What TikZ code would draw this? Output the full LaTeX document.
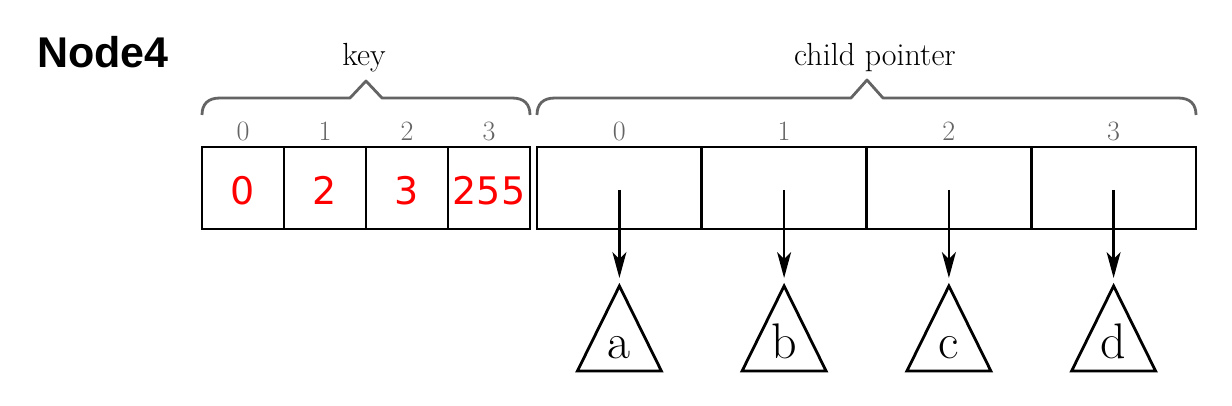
\documentclass[tikz,border=0pt]{standalone}
\usepackage{fontspec}
\newfontfamily\numfont{DejaVu Sans}
\newfontfamily\titlefont{Liberation Sans}
\usetikzlibrary{arrows.meta}
\definecolor{braceg}{RGB}{100,100,100}
\definecolor{numred}{RGB}{255,0,0}
\begin{document}
\begin{tikzpicture}[x=1pt,y=-1pt,
  cellbase/.style={draw, line width=2.8pt, minimum height=82pt, inner sep=0pt, outer sep=0pt},
  keycell/.style={cellbase, minimum width=82pt, text=numred, font=\numfont\fontsize{38}{40}\selectfont, text height=33.7pt, text depth=0pt},
  ptrcell/.style={cellbase, minimum width=164.75pt},
  idx/.style={text=braceg, font=\fontsize{28}{32}\selectfont, anchor=base, inner sep=0pt},
  lbl/.style={font=\fontsize{32}{38}\selectfont, anchor=base, inner sep=0pt},
  bracel/.style={draw=braceg, line width=2.8pt, line join=round},
  ptr/.style={draw, line width=2.4pt, -{Stealth[length=26pt,width=14pt,inset=7pt]}},
  tri/.style={draw, line width=2.8pt, line join=miter},
  leaf/.style={font=\fontsize{50}{52}\selectfont, anchor=base, inner sep=0pt}]
\useasboundingbox (0,0) rectangle (1232,406);

% title
\node[font=\titlefont\bfseries\fontsize{43}{48}\selectfont, anchor=base west, inner sep=0pt] (title) at (37,68) {Node4};

% key cells
\node[keycell] (k0) at (243,188) {0};
\node[keycell] (k1) at (325,188) {2};
\node[keycell] (k2) at (407,188) {3};
\node[keycell] (k3) at (489,188) {255};

% child pointer cells
\node[ptrcell] (c0) at (619.4,188) {};
\node[ptrcell] (c1) at (784.1,188) {};
\node[ptrcell] (c2) at (948.9,188) {};
\node[ptrcell] (c3) at (1113.6,188) {};

% indices
\foreach \i in {0,...,3}{
  \node[idx] (ki\i) at (k\i.center |- 0,141) {\i};
  \node[idx] (ci\i) at (c\i.center |- 0,141) {\i};
}

% braces
\draw[bracel] (202,115) .. controls (202,104) and (208,98) .. (220,98) -- (350,98) -- (366,81) -- (382,98) -- (512,98) .. controls (524,98) and (530,104) .. (530,115);
\draw[bracel] (537,115) .. controls (537,104) and (543,98) .. (555,98) -- (851,98) -- (867,80) -- (883,98) -- (1178,98) .. controls (1190,98) and (1196,104) .. (1196,115);

% brace labels
\node[lbl] (keylbl) at (364,66) {key};
\node[lbl] (ptrlbl) at (875,66) {child pointer};

% subtrees
\foreach \i/\l in {0/a,1/b,2/c,3/d}{
  \coordinate (t\i) at (c\i.center |- 0,286);
  \draw[tri] (t\i) -- ++(42,85) -- ++(-84,0) -- cycle;
  \node[leaf] (l\i) at (c\i.center |- 0,358) {\l};
  \draw[ptr] ([yshift=-2pt]c\i.center) -- ([yshift=8pt]t\i);
}
\end{tikzpicture}
\end{document}
